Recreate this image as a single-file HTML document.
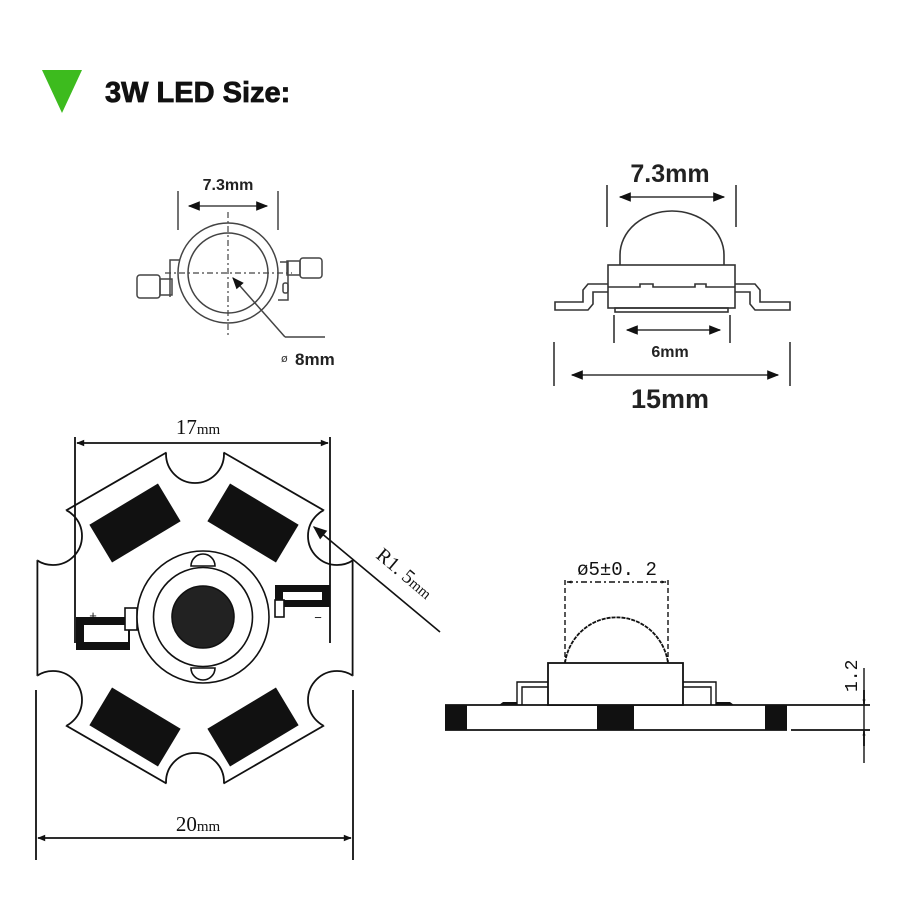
<!DOCTYPE html>
<html><head><meta charset="utf-8"><style>
html,body{margin:0;padding:0;background:#fff;}
svg{display:block;}
</style></head><body>
<svg width="900" height="900" viewBox="0 0 900 900" xmlns="http://www.w3.org/2000/svg">
<defs>
<marker id="ah" viewBox="0 0 10 10" refX="9" refY="5" markerWidth="9" markerHeight="8" orient="auto-start-reverse" markerUnits="userSpaceOnUse"><path d="M0,1 L10,5 L0,9 z" fill="#111"/></marker>
<marker id="ahB" viewBox="0 0 10 10" refX="9" refY="5" markerWidth="14" markerHeight="12" orient="auto-start-reverse" markerUnits="userSpaceOnUse"><path d="M0,1 L10,5 L0,9 z" fill="#111"/></marker>
<marker id="ahR" viewBox="0 0 10 10" refX="9" refY="5" markerWidth="26" markerHeight="14" orient="auto-start-reverse" markerUnits="userSpaceOnUse"><path d="M0,1 L10,5 L0,9 z" fill="#111"/></marker>
<marker id="ahS" viewBox="0 0 10 10" refX="9" refY="5" markerWidth="7" markerHeight="5" orient="auto-start-reverse" markerUnits="userSpaceOnUse"><path d="M0,2 L10,5 L0,8 z" fill="#111"/></marker>
<clipPath id="hexclip"><polygon points="195,436 352.6,527 352.6,709 195,800 37.4,709 37.4,527"/></clipPath>
<mask id="hexmask"><rect x="0" y="0" width="900" height="900" fill="#fff"/>
<g fill="#000"><circle cx="195" cy="454" r="29"/><circle cx="337" cy="536" r="29"/><circle cx="337" cy="700" r="29"/><circle cx="195" cy="782" r="29"/><circle cx="53" cy="700" r="29"/><circle cx="53" cy="536" r="29"/></g></mask>
</defs>

<polygon points="42,70 82,70 62,113" fill="#3dbb1e"/>
<text x="105" y="102" font-family="Liberation Sans, sans-serif" font-weight="bold" font-size="29" fill="#111" stroke="#111" stroke-width="0.8">3W LED Size:</text>

<g stroke="#444" fill="none" stroke-width="1.5">
<text x="228" y="190" font-family="Liberation Sans, sans-serif" font-weight="bold" font-size="16" fill="#222" stroke="none" text-anchor="middle">7.3mm</text>
<line x1="178" y1="191" x2="178" y2="230"/><line x1="278" y1="191" x2="278" y2="230"/>
<line x1="189" y1="206" x2="267" y2="206" marker-start="url(#ahB)" marker-end="url(#ahB)"/>
<rect x="137" y="275" width="23" height="23" rx="3"/>
<rect x="160" y="279" width="12" height="16"/>
<rect x="300" y="258" width="22" height="20" rx="3"/>
<rect x="287" y="261" width="13" height="14"/>
<path d="M170,297 L170,260 L180,260"/>
<path d="M280,262 L288,262 L288,300 L278,300"/>
<rect x="283" y="283" width="5" height="10" rx="2"/>
<circle cx="228" cy="273" r="50" fill="#fff"/>
<circle cx="228" cy="273" r="40"/>
<line x1="165" y1="273" x2="292" y2="273" stroke-dasharray="6,3,2,3" stroke-width="1.2"/>
<line x1="228" y1="212" x2="228" y2="337" stroke-dasharray="6,3,2,3" stroke-width="1.2"/>
<polyline points="285,337 325,337"/>
<line x1="285" y1="337" x2="233" y2="278" marker-end="url(#ahB)"/>
</g>
<text x="281" y="362" font-family="DejaVu Sans, sans-serif" font-size="11" fill="#333">ø</text>
<text x="295" y="365" font-family="Liberation Sans, sans-serif" font-weight="bold" font-size="17" fill="#222">8mm</text>

<g stroke="#333" fill="none" stroke-width="1.6">
<text x="670" y="182" font-family="Liberation Sans, sans-serif" font-weight="bold" font-size="25" fill="#222" stroke="none" text-anchor="middle">7.3mm</text>
<line x1="607" y1="185" x2="607" y2="227"/><line x1="736" y1="185" x2="736" y2="227"/>
<line x1="620" y1="197" x2="724" y2="197" marker-start="url(#ahB)" marker-end="url(#ahB)"/>
<path d="M620,265 L620,255 A52,44 0 0 1 724,255 L724,265"/>
<rect x="608" y="265" width="127" height="43"/>
<path d="M608,287 L640,287 L640,284 L653,284 L653,287 L695,287 L695,284 L706,284 L706,287 L735,287"/>
<path d="M608,284 L588,284 L583,290 L583,302 L555,302 L555,310 L588,310 L593,304 L593,292 L608,292"/>
<path d="M735,284 L755,284 L760,290 L760,302 L790,302 L790,310 L755,310 L750,304 L750,292 L735,292"/>
<rect x="615" y="308" width="113" height="4"/>
<line x1="614" y1="315" x2="614" y2="343"/><line x1="730" y1="315" x2="730" y2="343"/>
<line x1="627" y1="330" x2="720" y2="330" marker-start="url(#ahB)" marker-end="url(#ahB)"/>
<line x1="554" y1="342" x2="554" y2="386"/><line x1="790" y1="342" x2="790" y2="386"/>
<line x1="572" y1="375" x2="778" y2="375" marker-start="url(#ahB)" marker-end="url(#ahB)"/>
</g>
<text x="670" y="357" font-family="Liberation Sans, sans-serif" font-weight="bold" font-size="16" fill="#222" text-anchor="middle">6mm</text>
<text x="670" y="408" font-family="Liberation Sans, sans-serif" font-weight="bold" font-size="27" fill="#222" text-anchor="middle">15mm</text>

<g stroke="#111" fill="none" stroke-width="1.8">
<text x="198" y="434" font-family="Liberation Serif, serif" font-size="21" fill="#111" stroke="none" text-anchor="middle">17<tspan font-size="15">mm</tspan></text>
<line x1="75" y1="437" x2="75" y2="643"/><line x1="330" y1="437" x2="330" y2="643"/>
<line x1="77" y1="443" x2="328" y2="443" marker-start="url(#ah)" marker-end="url(#ah)"/>
<polygon points="195,436 352.6,527 352.6,709 195,800 37.4,709 37.4,527" mask="url(#hexmask)"/>
<g clip-path="url(#hexclip)"><circle cx="195" cy="454" r="29"/><circle cx="337" cy="536" r="29"/><circle cx="337" cy="700" r="29"/><circle cx="195" cy="782" r="29"/><circle cx="53" cy="700" r="29"/><circle cx="53" cy="536" r="29"/></g>
<line x1="36" y1="690" x2="36" y2="860"/><line x1="353" y1="690" x2="353" y2="860"/>
<line x1="38" y1="838" x2="351" y2="838" marker-start="url(#ah)" marker-end="url(#ah)"/>
</g>
<text x="198" y="831" font-family="Liberation Serif, serif" font-size="21" fill="#111" text-anchor="middle">20<tspan font-size="15">mm</tspan></text>
<g fill="#111">
<rect x="-40" y="-22" width="80" height="44" transform="translate(135,523) rotate(-31)"/>
<rect x="-40" y="-22" width="80" height="44" transform="translate(253,523) rotate(31)"/>
<rect x="-40" y="-22" width="80" height="44" transform="translate(135,727) rotate(31)"/>
<rect x="-40" y="-22" width="80" height="44" transform="translate(253,727) rotate(-31)"/>
</g>
<g stroke="#111" stroke-width="1.6" fill="#fff">
<path d="M76,617 L130,617 L130,650 L76,650 Z M84,625 L84,642 L128,642 L128,625 Z" fill="#111" fill-rule="evenodd" stroke="none"/>
<rect x="125" y="608" width="12" height="22" fill="#fff"/>
<path d="M275,585 L330,585 L330,607 L275,607 Z M283,592 L283,600 L322,600 L322,592 Z" fill="#111" fill-rule="evenodd" stroke="none"/>
<rect x="275" y="600" width="9" height="17" fill="#fff"/>
<circle cx="203" cy="617" r="66"/>
<path d="M191,566 A12,12 0 0 1 215,566 Z"/>
<path d="M191,668 A12,12 0 0 0 215,668 Z"/>
<circle cx="203" cy="617" r="49.5"/>
<circle cx="203" cy="617" r="31" fill="#222"/>
</g>
<text x="93" y="620" font-family="Liberation Sans, sans-serif" font-size="13" fill="#111" text-anchor="middle">+</text>
<text x="318" y="622" font-family="Liberation Sans, sans-serif" font-size="13" fill="#111" text-anchor="middle">−</text>
<line x1="440" y1="632" x2="314" y2="527" stroke="#111" stroke-width="1.6" marker-end="url(#ahR)"/>
<text transform="translate(375,557) rotate(40)" font-family="Liberation Serif, serif" font-size="20" fill="#111">R1. 5<tspan font-size="15">mm</tspan></text>

<g stroke="#111" fill="none" stroke-width="1.8">
<line x1="445" y1="705" x2="870" y2="705"/>
<line x1="445" y1="730" x2="787" y2="730"/>
<line x1="791" y1="730" x2="870" y2="730"/>
<rect x="548" y="663" width="135" height="42" fill="#fff"/>
<path d="M565,663 A52,53 0 0 1 668,663" stroke-dasharray="4,1" stroke-width="1.8"/>
<line x1="565" y1="580" x2="565" y2="663" stroke-dasharray="5,3" stroke-width="1.4"/>
<line x1="668" y1="580" x2="668" y2="663" stroke-dasharray="5,3" stroke-width="1.4"/>
<line x1="567" y1="582" x2="666" y2="582" stroke-dasharray="6,3,2,3" stroke-width="1.4" marker-start="url(#ahS)" marker-end="url(#ahS)"/>
<path d="M548,682 L517,682 L517,705 M548,687 L522,687 L522,705" stroke-width="1.4"/>
<path d="M683,682 L716,682 L716,705 M683,687 L711,687 L711,705" stroke-width="1.4"/>
<line x1="864" y1="668" x2="864" y2="763" stroke-width="1.4"/>
<line x1="864" y1="690" x2="864" y2="704" marker-end="url(#ahS)"/>
<line x1="864" y1="746" x2="864" y2="731" marker-end="url(#ahS)"/>
</g>
<g fill="#111">
<rect x="445" y="705" width="22" height="25"/>
<rect x="597" y="705" width="37" height="25"/>
<rect x="765" y="705" width="22" height="25"/>
<path d="M499,705 L503,702 L517,702 L517,705 Z"/>
<path d="M716,702 L730,702 L734,705 L716,705 Z"/>
</g>
<text x="617" y="575" font-family="Liberation Mono, DejaVu Sans Mono, monospace" font-size="19" fill="#111" text-anchor="middle">ø5±0. 2</text>
<text transform="translate(857,692) rotate(-90)" font-family="Liberation Mono, monospace" font-size="18" fill="#111">1.2</text>
</svg>
</body></html>
